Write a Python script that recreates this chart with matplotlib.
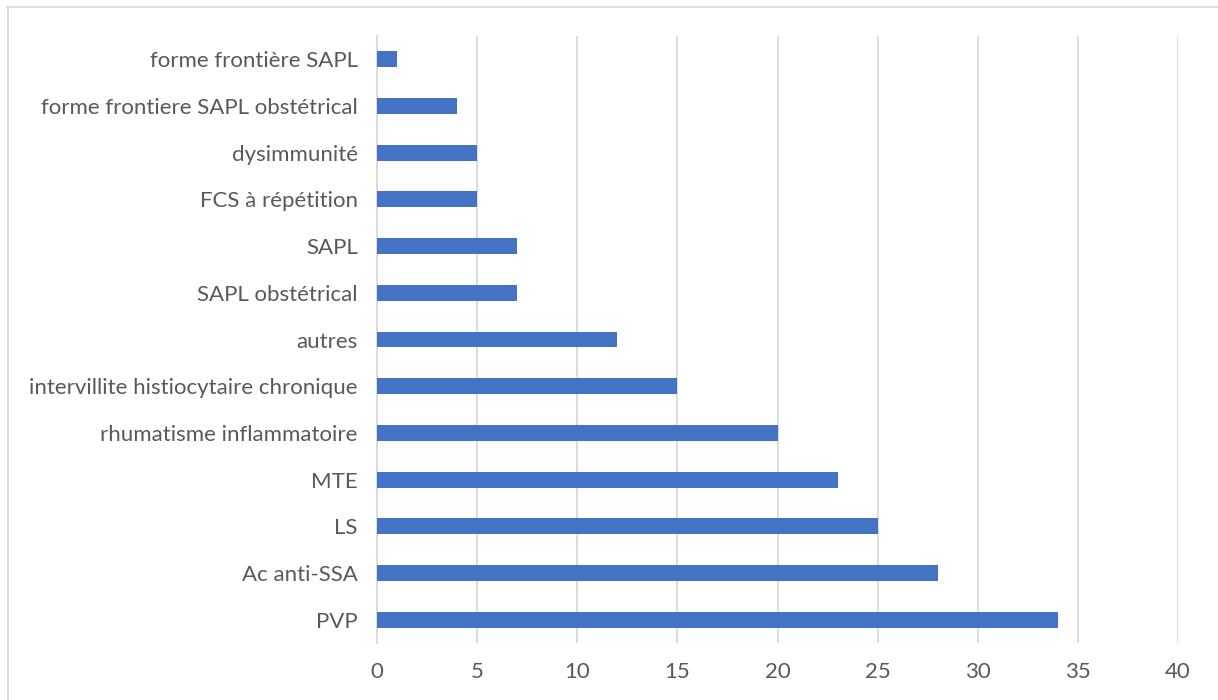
import matplotlib
matplotlib.use('Agg')
from matplotlib import pyplot as plt
from matplotlib.lines import Line2D

categories = ['PVP', 'Ac anti-SSA', 'LS', 'MTE', 'rhumatisme inflammatoire',
              'intervillite histiocytaire chronique', 'autres', 'SAPL obstétrical',
              'SAPL', 'FCS à répétition', 'dysimmunité',
              'forme frontiere SAPL obstétrical', 'forme frontière SAPL']
values = [34, 28, 25, 23, 20, 15, 12, 7, 7, 5, 5, 4, 1]
xticks = [0, 5, 10, 15, 20, 25, 30, 35, 40]

plt.rcParams['font.family'] = ['Lato', 'DejaVu Sans']
txt = '#595959'

fig = plt.figure(figsize=(12.18, 7), dpi=100)
ax = fig.add_axes([377/1218, 1-643/700, (1178-377)/1218, (643-36)/700])

ax.barh(range(len(categories)), values, height=0.34, color='#4472C4', zorder=3)
ax.set_xlim(0, 40)
ax.set_ylim(-0.5, len(categories)-0.5)
ax.set_xticks(xticks)
ax.set_yticks(range(len(categories)))
ax.set_yticklabels(categories)
ax.grid(axis='x', color='#D9D9D9', linewidth=1.3, zorder=0)
for s in ['top', 'right', 'bottom']:
    ax.spines[s].set_visible(False)
ax.spines['left'].set_color('#D9D9D9')
ax.spines['left'].set_linewidth(1.3)
ax.tick_params(axis='both', length=0, labelsize=16, colors=txt)
ax.tick_params(axis='y', pad=14)
ax.tick_params(axis='x', pad=14)

# outer chart border (only top and left visible)
fig.lines.append(Line2D([7.5/1218, 7.5/1218], [0, 1-7/700], transform=fig.transFigure,
                        color='#D9D9D9', linewidth=1.3))
fig.lines.append(Line2D([7/1218, 1], [1-7/700, 1-7/700], transform=fig.transFigure,
                        color='#D9D9D9', linewidth=1.3))

fig.savefig('out.png', dpi=100)
